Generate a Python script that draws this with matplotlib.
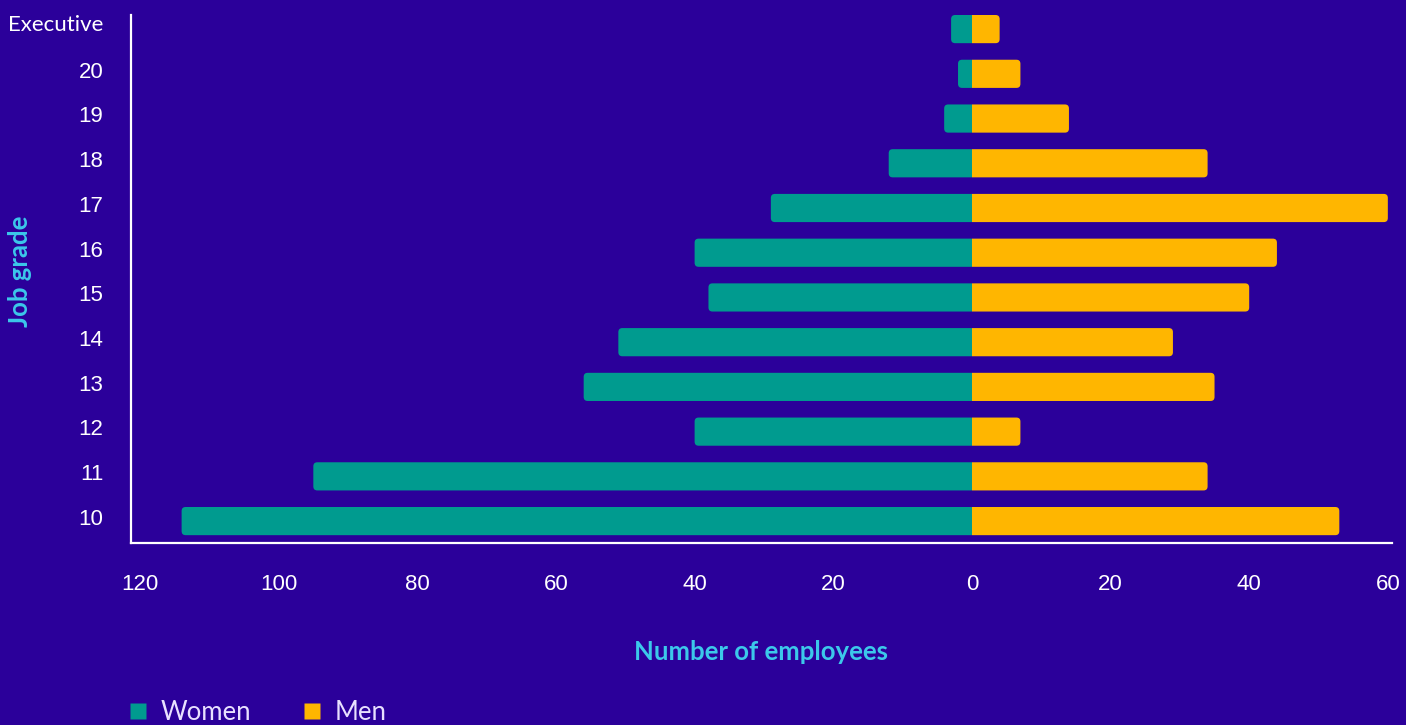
import matplotlib
matplotlib.use("Agg")
import matplotlib.pyplot as plt
import matplotlib.transforms as mtransforms
from matplotlib.patches import FancyBboxPatch, Rectangle
from matplotlib.lines import Line2D

# data (bottom to top)
grades = ["10", "11", "12", "13", "14", "15", "16", "17", "18", "19", "20", "Executive"]
women = [114, 95, 40, 56, 51, 38, 40, 29, 12, 4, 2, 3]
men = [53, 34, 7, 35, 29, 40, 44, 60, 34, 14, 7, 4]

xticks = [-120, -100, -80, -60, -40, -20, 0, 20, 40, 60]

bg = "#2b009a"
teal = "#009b8f"
gold = "#ffb600"
cyan = "#3cc8ea"

plt.rcParams["font.family"] = ["Liberation Sans", "DejaVu Sans"]

fig = plt.figure(figsize=(14.06, 7.25), dpi=100, facecolor=bg)
ax = fig.add_axes([131/1406, 1-543/725, (1392-131)/1406, (543-15)/725])
ax.set_facecolor(bg)

ypos = list(range(len(grades)))
bars_w = ax.barh(ypos, [-v for v in women], height=0.63, color=teal, zorder=2)
bars_m = ax.barh(ypos, men, height=0.63, color=gold, zorder=2)

ax.set_xlim(-121.3, 60.6)
ax.set_ylim(-0.49, 11.315)

# rounded outer ends: rounded box pushed past zero, clipped at zero
px_x = 6.93
px_y = 44.7
r = 4 / px_x
for bars in (bars_w, bars_m):
    for p in bars:
        x, y = p.get_x(), p.get_y()
        w, h = p.get_width(), p.get_height()
        if w < 0:
            bx, bw = x + w, -w + r
            clip = Rectangle((x + w - 1, y - 0.1), -w + 1, h + 0.2, transform=ax.transData)
        else:
            bx, bw = x - r, w + r
            clip = Rectangle((x, y - 0.1), w + 1, h + 0.2, transform=ax.transData)
        fb = FancyBboxPatch((bx, y), bw, h,
                            boxstyle="round,pad=0,rounding_size=%f" % r,
                            mutation_aspect=px_x / px_y,
                            facecolor=p.get_facecolor(), edgecolor="none", zorder=2)
        ax.add_patch(fb)
        fb.set_clip_path(clip)
        p.set_visible(False)

ax.set_xticks(xticks)
ax.set_xticklabels([str(abs(t)) for t in xticks])
ax.set_yticks(ypos)
ax.set_yticklabels(grades)
ax.tick_params(axis="x", length=0, pad=22, colors="white", labelsize=16)
ax.tick_params(axis="y", length=0, pad=20, colors="white", labelsize=16)
for lab in ax.get_yticklabels():
    up = 3
    if lab.get_text() == "Executive":
        lab.set_family(["Lato", "DejaVu Sans"])
        lab.set_fontsize(16)
        up = 4.5
    lab.set_transform(lab.get_transform() +
                      mtransforms.ScaledTranslation(0, up / 72, fig.dpi_scale_trans))

for s in ("top", "right"):
    ax.spines[s].set_visible(False)
for s in ("left", "bottom"):
    ax.spines[s].set_color("white")
    ax.spines[s].set_linewidth(1.6)

ax.set_xlabel("Number of employees", color=cyan, fontsize=18.5, fontweight="bold",
              family=["Lato", "DejaVu Sans"])
ax.xaxis.set_label_coords(0.5, (543-652)/528)
ax.xaxis.label.set_va("center")
ax.set_ylabel("Job grade", color=cyan, fontsize=18.5, fontweight="bold",
              family=["Lato", "DejaVu Sans"])
ax.yaxis.set_label_coords((20-131)/1261, (543-271)/528)
ax.yaxis.label.set_va("center")

handles = [Line2D([], [], marker="s", linestyle="none", markersize=12,
                  markerfacecolor=teal, markeredgecolor="none"),
           Line2D([], [], marker="s", linestyle="none", markersize=12,
                  markerfacecolor=gold, markeredgecolor="none")]
leg = fig.legend(handles, ["Women", "Men"], loc="center left", ncol=2,
                 bbox_to_anchor=(126.5/1406, 1-712/725), frameon=False,
                 borderpad=0, borderaxespad=0, handlelength=0.9,
                 handletextpad=0.41, columnspacing=1.95,
                 prop={"family": ["Lato", "DejaVu Sans"], "size": 18.5})
for t in leg.get_texts():
    t.set_color("#e8e0ff")

fig.savefig("out.png", dpi=100, facecolor=bg)
